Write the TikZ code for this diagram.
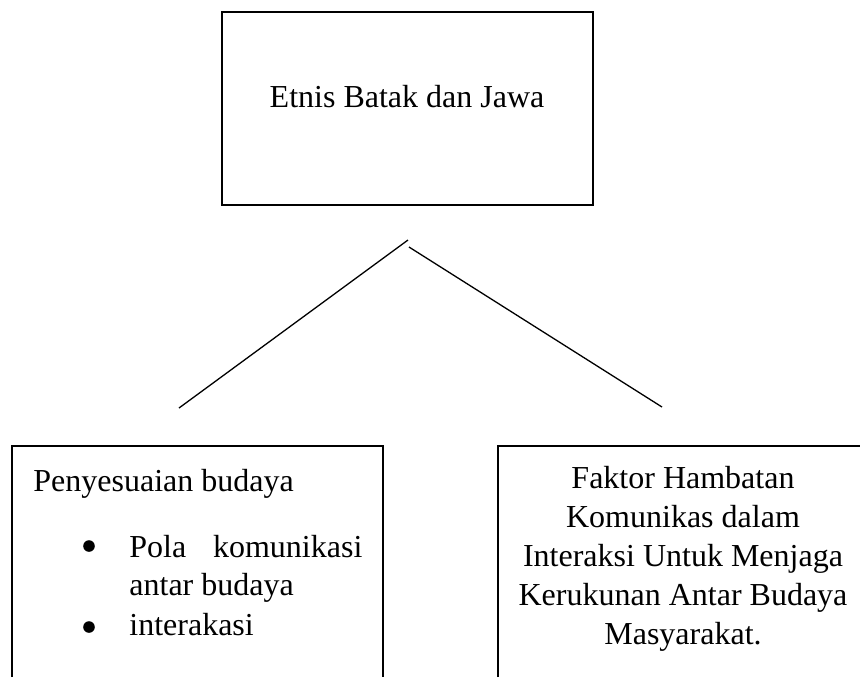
\documentclass[tikz,border=0pt]{standalone}
\usepackage{fontspec}
\setmainfont{Liberation Serif}
\begin{document}
\begin{tikzpicture}[x=0.5pt,y=-0.5pt,
  boxline/.style={line width=1.3pt},
  conn/.style={line width=0.65pt},
  txt/.style={inner sep=0pt, font=\fontsize{16}{19.5}\selectfont},
  bulletdot/.style={circle, fill=black, inner sep=0pt, minimum size=5.8pt},
]
\useasboundingbox (0,0) rectangle (860,677);
% top box
\node[draw, boxline, minimum width=185.5pt, minimum height=96.5pt, inner sep=0pt] (top) at (407.5,108.5) {};
\node[txt, anchor=base] (toptext) at (407,107) {Etnis Batak dan Jawa};
% connectors
\coordinate (apexL) at (408,240);
\coordinate (endL) at (179,408);
\coordinate (apexR) at (409,247);
\coordinate (endR) at (662,407);
\draw[conn] (apexL) -- (endL);
\draw[conn] (apexR) -- (endR);
% lower boxes (cut off at the bottom)
\draw[boxline] (12,677) -- (12,446) -- (383,446) -- (383,677);
\draw[boxline] (498,677) -- (498,446) -- (860,446);
% left box text
\node[txt, anchor=base west] (peny) at (33,491) {Penyesuaian budaya};
\node[bulletdot] (b1) at (89,546) {};
\node[txt, anchor=base west] (pola) at (129,557) {\makebox[116.5pt][l]{Pola\hfill komunikasi}};
\node[txt, anchor=base west] (antar) at (129,595) {antar budaya};
\node[bulletdot] (b2) at (89,627) {};
\node[txt, anchor=base west] (inter) at (129,635) {interakasi};
% right box text
\node[txt, anchor=base] (r1) at (683,488) {Faktor Hambatan};
\node[txt, anchor=base] (r2) at (683,527) {Komunikas dalam};
\node[txt, anchor=base] (r3) at (683,566) {Interaksi Untuk Menjaga};
\node[txt, anchor=base] (r4) at (683,605) {Kerukunan Antar Budaya};
\node[txt, anchor=base] (r5) at (683,644) {Masyarakat.};
\end{tikzpicture}
\end{document}
